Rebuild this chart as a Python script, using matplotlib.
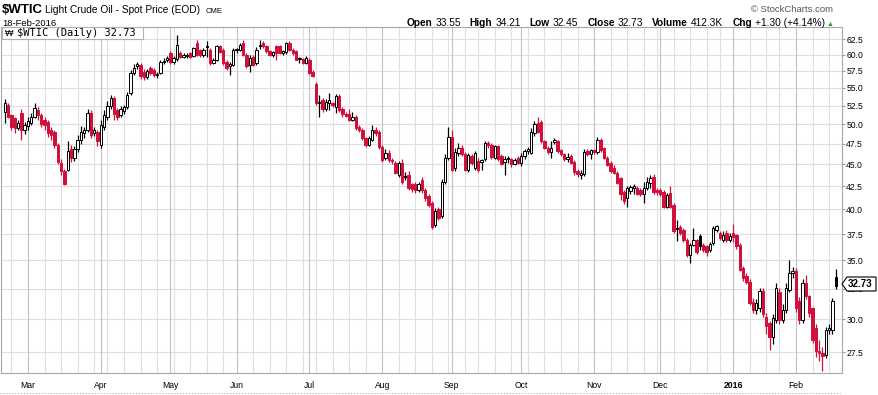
import matplotlib
matplotlib.use('Agg')
import matplotlib.pyplot as plt
from matplotlib.patches import Rectangle, Polygon
from matplotlib.lines import Line2D
import pandas as pd

# daily bars 19-Feb-2015 .. 18-Feb-2016
opens = [
    51.6, 52.6, 51.2, 50.8, 49.5, 51.5, 49.3,
    49.8, 50.1, 51.0, 51.9, 51.2, 50.6, 50.3, 49.3, 49.0, 47.4, 45.2, 44.2, 44.4, 46.9, 45.8,
    46.8, 48.0, 48.8, 49.3, 51.5, 48.9, 49.0,
    47.4, 49.6, 51.0, 52.4, 53.5, 51.9, 51.2, 51.8, 52.3, 54.3, 57.2, 58.3, 58.4, 57.4, 56.6,
    57.9, 57.6, 56.9, 57.2, 58.8, 59.2,
    60.2, 58.9, 59.3, 60.2, 59.7, 59.8, 60.2, 59.8, 61.8, 60.7, 59.9, 61.2, 60.75, 58.7, 59.2,
    61.3, 60.75, 58.9, 58.2, 58.4,
    60.7, 60.75, 61.8, 60.0, 58.4, 59.7, 58.7, 61.3, 61.8, 61.3, 60.5, 60.0, 61.3, 61.3, 60.2,
    60.4, 61.8, 60.75, 60.5, 59.3, 59.3, 58.7,
    59.2, 57.4, 55.6, 52.9, 53.3, 52.0, 52.8, 52.8, 52.3, 53.8, 52.0, 51.3, 51.3, 50.6, 51.0,
    49.7, 49.3, 48.2, 47.4, 48.0, 49.3, 49.0,
    47.1, 45.8, 46.4, 45.55, 45.2, 43.8, 45.2, 43.6, 43.8, 42.7, 42.7, 42.1, 43.2, 42.1, 41.4,
    40.7, 38.4, 40.0, 39.3, 43.0, 45.8,
    48.4, 44.6, 46.4, 47.0, 46.2, 44.4, 46.0, 44.6, 45.4, 45.3, 45.6, 47.6, 47.4, 45.8, 47.2,
    46.0, 45.3, 45.6, 45.6, 45.1, 45.8,
    45.2, 46.0, 46.6, 46.4, 48.8, 50.2, 50.3, 47.8, 47.0, 46.5, 47.7, 47.8, 46.7, 46.2, 45.6,
    46.0, 45.3, 44.2, 43.8, 43.9, 46.6, 46.2,
    46.7, 46.5, 48.0, 46.95, 45.8, 45.2, 44.6, 44.0, 43.4, 41.9, 41.2, 42.0, 42.3, 42.3, 42.1,
    41.7, 42.3, 42.85, 43.6, 42.1,
    42.1, 41.9, 40.3, 41.8, 40.5, 37.95, 38.2, 37.9, 36.9, 35.5, 36.45, 36.9, 37.3, 36.45, 36.3,
    36.0, 36.6, 37.9, 37.6, 36.9, 37.6, 36.9,
    37.6, 37.4, 36.45, 34.3, 33.56, 33.1, 31.4, 30.76, 30.9, 32.3, 30.2, 29.7, 28.6, 29.96, 32.25,
    29.96, 30.76, 32.4, 33.85,
    34.0, 31.5, 29.96, 33.0, 31.85, 30.9, 29.3, 27.6, 27.45, 27.34, 29.2, 29.2, 33.55,
]
highs = [
    53.4, 52.8, 51.4, 51.0, 50.5, 52.1, 50.3,
    51.0, 51.5, 52.9, 52.3, 51.5, 50.9, 50.6, 49.7, 49.3, 47.6, 45.7, 44.5, 47.8, 47.3, 47.2,
    48.6, 49.8, 49.6, 52.1, 51.9, 49.6, 49.3,
    50.6, 51.9, 53.2, 54.0, 53.8, 52.2, 52.4, 52.6, 54.4, 57.6, 58.5, 58.9, 58.7, 57.8, 57.8,
    58.2, 57.9, 57.4, 59.2, 59.4, 59.8,
    60.5, 59.8, 63.2, 60.6, 60.2, 60.3, 60.4, 61.2, 62.4, 60.9, 61.0, 62.2, 61.0, 59.4, 61.6,
    61.5, 61.0, 59.2, 58.8, 61.0,
    61.0, 61.9, 62.3, 60.3, 59.9, 60.0, 61.2, 62.4, 62.1, 61.5, 60.8, 60.6, 61.5, 61.6, 60.7,
    62.0, 62.1, 61.0, 60.7, 59.7, 59.5, 59.8,
    59.5, 57.6, 55.9, 54.0, 53.6, 53.4, 54.3, 53.0, 54.1, 54.1, 52.3, 51.6, 52.0, 51.6, 51.2,
    49.9, 49.5, 48.4, 48.5, 49.9, 49.6, 49.3,
    47.3, 46.9, 46.7, 45.8, 45.4, 45.4, 45.6, 44.1, 44.2, 42.9, 43.0, 43.0, 43.6, 42.3, 41.6,
    40.9, 40.1, 40.3, 43.3, 46.3, 49.7,
    49.2, 47.0, 47.6, 47.3, 46.5, 46.4, 46.3, 46.6, 45.8, 45.6, 47.8, 47.9, 47.6, 47.4, 47.4,
    46.3, 46.0, 46.0, 45.8, 45.8, 46.0,
    46.4, 46.8, 47.1, 49.5, 50.4, 50.9, 50.6, 48.0, 47.2, 47.9, 48.2, 48.0, 46.9, 46.4, 46.4,
    46.2, 45.5, 44.5, 44.3, 46.8, 46.8, 46.9,
    46.9, 48.4, 48.2, 47.1, 46.0, 45.4, 44.9, 44.2, 43.6, 42.1, 42.5, 42.6, 42.8, 42.5, 42.3,
    43.0, 43.6, 43.8, 43.9, 42.3,
    42.3, 42.1, 41.8, 42.5, 40.7, 38.9, 38.4, 38.1, 37.1, 36.6, 38.1, 37.0, 37.5, 36.6, 36.4,
    36.7, 38.3, 38.4, 37.8, 37.8, 37.9, 37.6,
    38.5, 37.5, 36.6, 34.5, 33.9, 33.3, 31.7, 31.6, 32.6, 32.6, 30.5, 29.9, 30.4, 33.0, 32.6,
    31.2, 33.0, 35.06, 34.4,
    34.3, 31.8, 33.3, 33.7, 32.0, 31.0, 29.6, 28.4, 27.9, 29.4, 29.6, 31.7, 34.21,
]
lows = [
    50.1, 50.8, 49.3, 48.9, 49.3, 48.0, 48.7,
    49.2, 49.9, 50.8, 50.6, 49.6, 49.3, 48.4, 48.0, 47.0, 45.0, 43.8, 42.6, 44.2, 45.3, 45.4,
    46.5, 47.5, 48.2, 49.0, 48.2, 48.5, 47.2,
    47.0, 49.3, 50.6, 52.0, 50.6, 50.5, 50.9, 51.4, 52.0, 54.0, 56.9, 57.8, 56.3, 56.2, 56.3,
    56.9, 56.6, 56.5, 57.0, 58.5, 58.8,
    58.6, 58.6, 59.0, 59.5, 59.4, 59.5, 59.5, 59.6, 59.8, 59.6, 59.7, 59.7, 58.4, 58.5, 59.0,
    60.2, 58.4, 57.6, 56.9, 58.2,
    60.2, 60.5, 59.8, 57.9, 57.3, 58.2, 58.4, 60.9, 61.0, 60.2, 59.8, 59.7, 59.2, 60.1, 59.9,
    60.1, 60.5, 60.0, 59.1, 58.7, 58.5, 58.5,
    57.0, 56.6, 52.6, 51.0, 51.6, 51.8, 51.9, 52.3, 51.5, 51.6, 51.0, 50.9, 50.4, 50.4, 49.3,
    49.0, 48.0, 47.1, 47.2, 47.8, 48.5, 46.9,
    45.3, 45.5, 45.3, 45.1, 43.9, 43.6, 42.8, 43.2, 42.1, 41.9, 41.8, 41.9, 41.8, 40.9, 40.3,
    38.0, 38.2, 38.9, 39.1, 42.8, 45.5,
    44.2, 44.2, 46.0, 46.0, 44.2, 44.1, 44.9, 44.4, 44.1, 44.3, 45.4, 47.0, 45.6, 45.6, 45.4,
    44.9, 43.8, 45.2, 44.7, 44.9, 45.0,
    44.8, 45.7, 46.2, 46.2, 48.5, 48.8, 47.6, 46.8, 46.3, 45.8, 47.5, 46.4, 46.0, 45.4, 45.3,
    45.0, 43.8, 43.5, 43.3, 43.7, 46.0, 45.7,
    46.2, 46.3, 46.5, 45.6, 44.8, 44.0, 43.9, 42.7, 41.0, 40.6, 40.3, 41.7, 41.6, 41.5, 41.4,
    40.7, 42.1, 42.3, 41.7, 41.5,
    41.4, 40.1, 40.1, 40.1, 37.6, 36.8, 37.4, 36.7, 35.3, 34.75, 36.3, 35.6, 36.0, 35.8, 35.4,
    35.8, 36.4, 37.7, 36.9, 36.7, 36.7, 36.7,
    36.7, 36.1, 34.0, 33.2, 32.9, 31.1, 30.5, 30.4, 30.6, 30.2, 28.9, 27.7, 28.1, 29.7, 29.6,
    29.7, 30.5, 32.2, 33.4,
    30.6, 29.6, 29.7, 31.6, 30.2, 28.2, 27.2, 26.9, 26.2, 27.1, 28.9, 28.9, 32.45,
]
closes = [
    52.8, 51.0, 49.7, 49.5, 50.1, 49.3, 49.9,
    50.4, 51.0, 52.2, 51.2, 50.0, 49.9, 48.9, 48.6, 47.4, 45.3, 44.2, 42.7, 46.6, 45.8, 46.8,
    48.0, 49.0, 49.2, 51.5, 48.6, 49.2, 47.8,
    49.9, 51.2, 52.4, 53.6, 51.3, 51.0, 52.0, 52.3, 54.0, 57.2, 57.9, 58.5, 56.7, 56.6, 57.5,
    57.2, 56.9, 57.0, 58.9, 59.0, 59.5,
    58.9, 59.5, 61.5, 59.7, 59.9, 60.0, 59.7, 61.0, 60.0, 59.9, 60.7, 61.3, 58.7, 59.2, 61.3,
    60.4, 58.7, 57.9, 58.5, 60.75,
    60.8, 61.55, 60.0, 58.2, 59.5, 58.4, 60.75, 61.55, 61.3, 60.5, 60.0, 60.4, 60.3, 60.2, 60.5,
    61.8, 60.75, 60.2, 59.2, 59.35, 58.7, 59.5,
    57.2, 56.8, 52.8, 53.0, 52.0, 53.0, 53.3, 52.6, 53.8, 51.9, 51.3, 51.1, 50.6, 51.0, 49.5,
    49.3, 48.2, 47.4, 48.2, 49.3, 48.8, 47.1,
    45.55, 46.4, 45.55, 45.4, 44.0, 45.2, 43.0, 43.7, 42.3, 42.2, 42.1, 42.7, 42.1, 41.2, 40.5,
    38.2, 39.8, 39.1, 43.0, 45.8, 48.4,
    44.4, 46.5, 47.0, 46.2, 44.4, 46.15, 45.2, 46.35, 44.4, 45.5, 47.6, 47.3, 45.9, 47.2, 45.6,
    45.1, 45.7, 45.75, 45.0, 45.5, 45.2,
    46.0, 46.6, 46.9, 49.0, 50.0, 49.0, 47.9, 47.0, 46.5, 47.0, 48.0, 46.6, 46.2, 45.6, 45.9,
    45.2, 44.1, 43.9, 44.0, 46.5, 46.3, 46.7,
    46.5, 48.0, 46.75, 45.8, 44.96, 44.2, 44.0, 42.85, 41.7, 40.85, 42.3, 42.4, 42.5, 41.7, 41.6,
    42.3, 43.0, 43.4, 41.9, 41.85,
    41.7, 40.3, 41.55, 40.3, 37.8, 38.1, 37.6, 36.9, 35.5, 36.45, 36.9, 35.8, 36.3, 36.0, 35.8,
    36.5, 38.1, 38.3, 37.1, 37.45, 36.9, 37.3,
    37.2, 36.3, 34.15, 33.4, 33.1, 31.3, 30.76, 31.3, 32.3, 30.4, 29.45, 28.6, 30.1, 32.55, 29.96,
    30.76, 32.55, 33.85, 34.0,
    30.9, 29.96, 32.98, 31.85, 30.5, 28.43, 27.6, 27.45, 27.25, 29.2, 29.3, 31.43, 32.73,
]

holidays = ['2015-04-03', '2015-05-25', '2015-07-03', '2015-09-07', '2015-11-26',
            '2015-12-25', '2016-01-01', '2016-01-18', '2016-02-15']
dates = pd.bdate_range('2015-02-19', '2016-02-18')
dates = dates[~dates.isin(pd.to_datetime(holidays))]

month_labels = ['Mar', 'Apr', 'May', 'Jun', 'Jul', 'Aug', 'Sep', 'Oct', 'Nov', 'Dec', '2016', 'Feb']
price_ticks = [27.5, 30.0, 32.5, 35.0, 37.5, 40.0, 42.5, 45.0, 47.5, 50.0, 52.5, 55.0, 57.5, 60.0, 62.5]

RED = '#d0103a'
W, H = 879, 395
plt.rcParams['font.family'] = ['Liberation Sans', 'DejaVu Sans']
fig = plt.figure(figsize=(W / 100, H / 100), dpi=100)


def fx(px):
    return px / W


def fy(py):
    return 1 - py / H


# plot frame: x 1..842, y 27..373 px
ax = fig.add_axes([fx(1), fy(373), fx(842) - fx(1), fy(27) - fy(373)])
ax.set_yscale('log')
ax.set_ylim(26.06, 64.5)
n = len(closes)
ax.set_xlim(-1.15, n + 0.9)

# gridlines
for p in price_ticks:
    ax.axhline(p, color='#dedede', lw=0.8, zorder=0)
prev_week = None
prev_month = None
month_pos = []
for i, d in enumerate(dates):
    wk = d.isocalendar()[1]
    if prev_month is not None and d.month != prev_month:
        ax.axvline(i, color='#c2c2c2', lw=0.8, zorder=0)
        month_pos.append(i)
    elif prev_week is not None and wk != prev_week:
        ax.axvline(i, color='#e0e0e0', lw=0.8, zorder=0)
    prev_week = wk
    prev_month = d.month

# candles: red when close < previous close, filled when close < open
for i in range(n):
    o, h, l, c = opens[i], highs[i], lows[i], closes[i]
    prev = closes[i - 1] if i > 0 else o
    col = RED if c < prev else 'black'
    ax.vlines(i, l, h, color=col, lw=0.9, zorder=2)
    bottom = min(o, c)
    top = max(o, c)
    if top / bottom < 1.002:
        top = bottom * 1.002
    face = col if c < o else 'white'
    ax.add_patch(Rectangle((i - 0.36, bottom), 0.72, top - bottom, facecolor=face,
                           edgecolor=col, lw=0.7, zorder=3))

ax.yaxis.tick_right()
ax.set_yticks(price_ticks)
ax.set_yticklabels([f'{p:.1f}' for p in price_ticks], fontsize=6.2)
ax.yaxis.set_minor_locator(matplotlib.ticker.NullLocator())
ax.tick_params(axis='y', length=2, pad=1, color='#999999')
ax.set_xticks([])
for s in ax.spines.values():
    s.set_color('#a8a8a8')
    s.set_linewidth(0.8)

# month labels
for lab, i in zip(month_labels, month_pos):
    ax.text(i, -(385 - 373) / 346, lab, transform=ax.get_xaxis_transform(), ha='center',
            va='center', fontsize=6.2, fontweight='bold' if lab == '2016' else 'normal')
fig.add_artist(Line2D([fx(0), fx(842)], [fy(393), fy(393)], color='#b0b0b0', lw=0.8, ls=':'))

# header
fig.text(fx(2), fy(13), '$WTIC', fontsize=9.5, fontweight='bold', va='baseline')
fig.text(fx(45), fy(13), 'Light Crude Oil - Spot Price (EOD)', fontsize=7.3, va='baseline')
fig.text(fx(206), fy(13), 'CME', fontsize=5.5, va='baseline')
fig.text(fx(2), fy(26), '18-Feb-2016', fontsize=6.8, va='baseline')
fig.text(fx(833), fy(12), '\u00a9 StockCharts.com', fontsize=6.8, va='baseline', ha='right',
         color='#555555')

pieces = [('Open', True), ('33.55', False), ('High', True), ('34.21', False),
          ('Low', True), ('32.45', False), ('Close', True), ('32.73', False),
          ('Volume', True), ('412.3K', False), ('Chg', True), ('+1.30 (+4.14%)', False)]
renderer = fig.canvas.get_renderer()
items = []
total = 0
for k, (t, b) in enumerate(pieces):
    txt = fig.text(0, fy(26), t, fontsize=7.3, va='baseline',
                   fontweight='bold' if b else 'normal')
    w = txt.get_window_extent(renderer).width
    gap = 3 if b else 9
    items.append((txt, w, gap))
    total += w + (gap if k < len(pieces) - 1 else 0)
x = 825 - total
for txt, w, gap in items:
    txt.set_x(fx(x))
    x += w + gap
fig.text(fx(827), fy(25.5), '\u25b2', fontsize=5, va='baseline', color='#2e8b2e')

# legend box
ax.add_patch(Rectangle((fx(2), fy(39)), fx(143) - fx(2), fy(27) - fy(39), transform=fig.transFigure,
                       facecolor='white', edgecolor='#b0b0b0', lw=0.8, zorder=5))
fig.text(fx(17), fy(36.5), '$WTIC (Daily) 32.73', fontsize=7.5, va='baseline', zorder=6,
         family='DejaVu Sans Mono')
fig.text(fx(5), fy(36.5), '\u20a9', fontsize=6.5, va='baseline', zorder=6)

# last price tag
tag = Polygon([(fx(842), fy(284)), (fx(847), fy(277)), (fx(876), fy(277)), (fx(876), fy(291)),
               (fx(847), fy(291))], closed=True, transform=fig.transFigure, facecolor='white',
              edgecolor='black', lw=0.8, zorder=4)
fig.add_artist(tag)
fig.text(fx(848), fy(284), '32.73', fontsize=7, fontweight='bold', va='center', zorder=5)

fig.savefig('out.png', dpi=100, facecolor='white')
